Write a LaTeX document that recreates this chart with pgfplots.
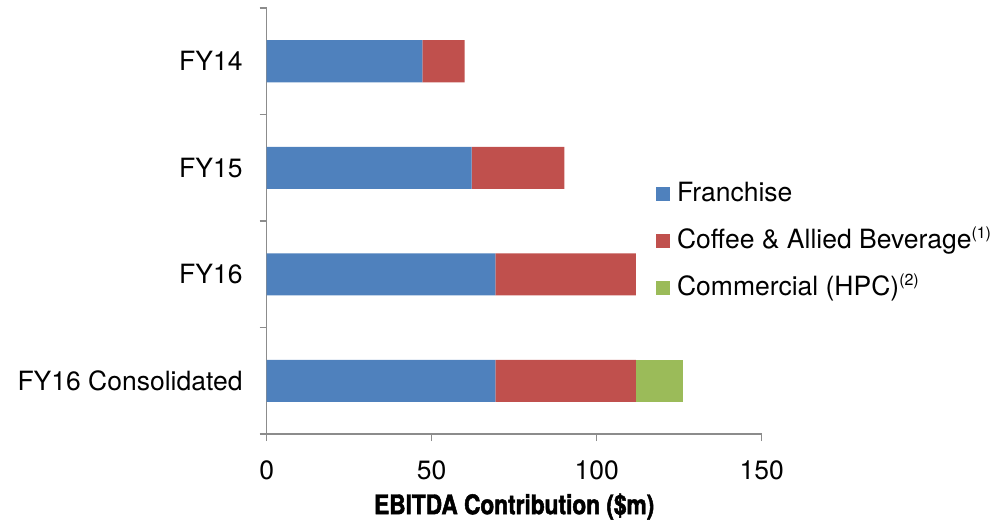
\documentclass[border=0pt]{standalone}
\usepackage{fontspec}
\setmainfont{TeX Gyre Heros}
\newfontfamily\condfont[FakeStretch=0.84,FakeBold=1.8]{TeX Gyre Heros}
\usepackage{pgfplots}
\pgfplotsset{compat=1.18}
\definecolor{cblue}{HTML}{4F81BD}
\definecolor{cred}{HTML}{C0504D}
\definecolor{cgreen}{HTML}{9BBB59}
\definecolor{axgray}{HTML}{8C8C8C}
\begin{document}
\begin{tikzpicture}
\begin{axis}[
  scale only axis, width=495bp, height=426bp,
  xbar stacked, bar width=42bp,
  xmin=0, xmax=150, xtick={0,50,100,150},
  ymin=-0.5, ymax=3.5,
  ytick={-0.5,0.5,1.5,2.5,3.5},
  y tick label as interval,
  yticklabels={FY16 Consolidated,FY16,FY15,FY14},
  axis x line*=bottom, axis y line*=left,
  axis line style={axgray, line width=1.5bp, -},
  tick style={axgray, line width=1.5bp},
  tick align=outside, major tick length=7bp,
  /pgf/number format/assume math mode=true,
  ticklabel style={font=\fontsize{26.5bp}{32bp}\selectfont, text=black},
  yticklabel style={inner sep=0pt, xshift=-17bp},
  xticklabel style={inner sep=0pt, yshift=-20bp},
  xlabel={\condfont\bfseries EBITDA Contribution (\$m)},
  xlabel style={font=\fontsize{27bp}{32bp}\selectfont, inner sep=0pt, yshift=-13bp},
  legend cell align=left,
  legend style={draw=none, fill=none, inner sep=0pt, outer sep=0pt,
    at={(axis cs:118,1.868)}, anchor=north west,
    font=\fontsize{26.5bp}{32bp}\selectfont,
    nodes={inner sep=0pt, text height=20bp, text depth=6bp},
    row sep=21bp, column sep=7bp},
]
\addplot+[fill=cblue, draw=none, legend image code/.code={\fill[cblue] (0bp,-6bp) rectangle (14bp,8bp);}]
  coordinates {(69.3,0) (69.3,1) (62.1,2) (47.2,3)};
\addplot+[fill=cred, draw=none, legend image code/.code={\fill[cred] (0bp,-6bp) rectangle (14bp,8bp);}]
  coordinates {(42.6,0) (42.6,1) (28.1,2) (12.8,3)};
\addplot+[fill=cgreen, draw=none, legend image code/.code={\fill[cgreen] (0bp,-6bp) rectangle (14bp,8bp);}]
  coordinates {(14.2,0) (0,1) (0,2) (0,3)};
\legend{Franchise,Coffee \& Allied Beverage\raisebox{10bp}{\fontsize{16bp}{16bp}\selectfont(1)},Commercial (HPC)\raisebox{10bp}{\fontsize{16bp}{16bp}\selectfont(2)}}
\coordinate (BL) at (axis cs:0,-0.5);
\end{axis}
\pgfresetboundingbox
\path ([shift={(-266.7bp,-88bp)}]BL) rectangle ++(1004bp,522bp);
\end{tikzpicture}
\end{document}
